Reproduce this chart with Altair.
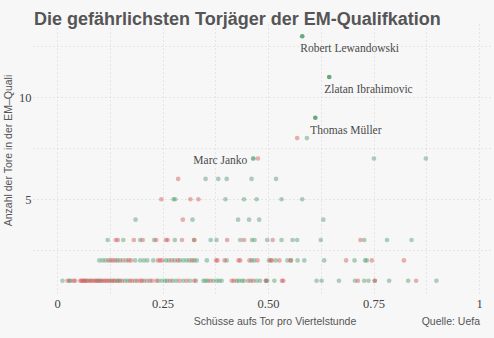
import altair as alt
import pandas as pd

# Schüsse aufs Tor pro Viertelstunde, je Anzahl Tore und Gruppe
tore_1_gruen = [0.013, 0.029, 0.032, 0.065, 0.078, 0.100, 0.102, 0.126, 0.137, 0.145, 0.149, 0.161,
                0.167, 0.185, 0.206, 0.220, 0.240, 0.248, 0.256, 0.261, 0.274, 0.282, 0.299, 0.315,
                0.329, 0.347, 0.352, 0.357, 0.370, 0.378, 0.384, 0.390, 0.426, 0.431, 0.438, 0.443,
                0.459, 0.473, 0.481, 0.495, 0.498, 0.515, 0.615, 0.627, 0.668, 0.706, 0.728, 0.738,
                0.753, 0.787, 0.832, 0.899]
tore_1_rot = [0.025, 0.039, 0.043, 0.055, 0.058, 0.061, 0.066, 0.070, 0.073, 0.081, 0.085, 0.090,
              0.093, 0.096, 0.106, 0.110, 0.114, 0.118, 0.122, 0.130, 0.134, 0.143, 0.154, 0.173,
              0.178, 0.190, 0.197, 0.201, 0.213, 0.225, 0.235, 0.268, 0.290, 0.307, 0.325, 0.363,
              0.414, 0.419, 0.453, 0.465, 0.495, 0.533, 0.536, 0.713, 0.753, 0.851]
tore_2_gruen = [0.100, 0.108, 0.115, 0.127, 0.143, 0.149, 0.164, 0.185, 0.197, 0.206, 0.214, 0.228,
                0.258, 0.265, 0.279, 0.291, 0.299, 0.307, 0.314, 0.325, 0.331, 0.355, 0.402, 0.461,
                0.467, 0.502, 0.518, 0.546, 0.554, 0.570, 0.586, 0.633, 0.705, 0.730, 0.734]
tore_2_rot = [0.122, 0.132, 0.138, 0.156, 0.170, 0.175, 0.239, 0.244, 0.249, 0.272, 0.286, 0.320,
              0.377, 0.380, 0.397, 0.430, 0.434, 0.456, 0.475, 0.506, 0.509, 0.527, 0.554, 0.685,
              0.746, 0.822]
tore_3_gruen = [0.120, 0.157, 0.197, 0.230, 0.279, 0.325, 0.364, 0.378, 0.434, 0.462, 0.468, 0.498,
                0.532, 0.558, 0.569, 0.625, 0.728, 0.782, 0.840]
tore_3_rot = [0.139, 0.144, 0.182, 0.203, 0.235, 0.258, 0.262, 0.296, 0.325, 0.403, 0.443, 0.511, 0.719]
tore_4_gruen = [0.186, 0.321, 0.429, 0.455, 0.479, 0.631]
tore_4_rot = [0.298]
tore_5_gruen = [0.276, 0.280, 0.399, 0.443, 0.473, 0.532, 0.581]
tore_5_rot = [0.247, 0.316, 0.335]
tore_6_gruen = [0.352, 0.382, 0.402, 0.461, 0.519]
tore_6_rot = [0.287]
tore_7_gruen = [0.465, 0.751, 0.874]
tore_7_rot = [0.476]
tore_8_gruen = [0.592]
tore_8_rot = [0.569]

# Hervorgehobene Spieler
namen = ["Robert Lewandowski", "Zlatan Ibrahimovic", "Thomas Müller", "Marc Janko"]
namen_schuesse = [0.581, 0.645, 0.612, 0.465]
namen_tore = [13, 11, 9, 7]

gruppen = [
    (1, tore_1_gruen, tore_1_rot), (2, tore_2_gruen, tore_2_rot), (3, tore_3_gruen, tore_3_rot),
    (4, tore_4_gruen, tore_4_rot), (5, tore_5_gruen, tore_5_rot), (6, tore_6_gruen, tore_6_rot),
    (7, tore_7_gruen, tore_7_rot), (8, tore_8_gruen, tore_8_rot),
]
rows = []
for tore, gruen, rot in gruppen:
    for s in gruen:
        rows.append({"schuesse": s, "tore": tore, "gruppe": "gruen"})
    for s in rot:
        rows.append({"schuesse": s, "tore": tore, "gruppe": "rot"})
df = pd.DataFrame(rows)
df_namen = pd.DataFrame({"name": namen, "schuesse": namen_schuesse, "tore": namen_tore})

GREEN = "#4E9A6A"
RED = "#D35454"
TEXT = "#555555"

xscale = alt.Scale(domain=[-0.057, 1.026], nice=False, zero=False)
yscale = alt.Scale(domain=[0.4, 13.6], nice=False, zero=False)

x_axis = alt.Axis(
    values=[0, 0.125, 0.25, 0.375, 0.5, 0.625, 0.75, 0.875, 1],
    labelExpr="datum.value == 0 ? '0' : datum.value == 1 ? '1' : (datum.value * 4) % 1 == 0 ? format(datum.value, '.2f') : ''",
    title="Schüsse aufs Tor pro Viertelstunde",
    titleX=241.5, titleY=28, titleAlign="center", titleBaseline="middle",
    labelPadding=4,
)
y_axis = alt.Axis(
    values=[2.5, 5, 7.5, 10, 12.5],
    labelExpr="datum.value % 5 == 0 ? format(datum.value, 'd') : ''",
    title="Anzahl der Tore in der EM–Quali",
    titleX=-25, titleY=126, titleAngle=270, titleAlign="center", titleBaseline="middle",
    labelPadding=2,
)

points = alt.Chart(df).mark_circle(size=22, opacity=0.45).encode(
    x=alt.X("schuesse:Q", scale=xscale, axis=x_axis),
    y=alt.Y("tore:Q", scale=yscale, axis=y_axis),
    color=alt.Color("gruppe:N", scale=alt.Scale(domain=["gruen", "rot"], range=[GREEN, RED]), legend=None),
)

top_points = alt.Chart(df_namen).transform_filter(
    alt.datum.tore > 8
).mark_circle(size=22, opacity=0.85, color=GREEN).encode(
    x=alt.X("schuesse:Q", scale=xscale),
    y=alt.Y("tore:Q", scale=yscale),
)
janko_point = alt.Chart(df_namen).transform_filter(
    alt.datum.tore == 7
).mark_circle(size=22, opacity=0.45, color=GREEN).encode(
    x=alt.X("schuesse:Q", scale=xscale),
    y=alt.Y("tore:Q", scale=yscale),
)

label_offsets = {
    "Robert Lewandowski": (-2, 16, "left"),
    "Zlatan Ibrahimovic": (-5, 16.5, "left"),
    "Thomas Müller": (-5, 16, "left"),
    "Marc Janko": (-6, 5, "right"),
}
labels = []
for n, (dx, dy, al) in label_offsets.items():
    labels.append(
        alt.Chart(df_namen).transform_filter(alt.datum.name == n).mark_text(
            align=al, baseline="alphabetic", dx=dx, dy=dy,
            font="Liberation Serif", fontSize=11.5, color="#4a4a4a",
        ).encode(
            x=alt.X("schuesse:Q", scale=xscale),
            y=alt.Y("tore:Q", scale=yscale),
            text="name:N",
        )
    )

quelle = alt.Chart(pd.DataFrame({"t": ["Quelle: Uefa"]})).mark_text(
    align="right", baseline="middle", font="Liberation Sans", fontSize=10.5, color=TEXT,
).encode(x=alt.value(447), y=alt.value(298), text="t:N")

chart = alt.layer(points, top_points, janko_point, *labels, quelle).properties(
    width=457, height=269,
    autosize=alt.AutoSizeParams(type="none"),
    padding={"left": 33, "top": 24, "right": 4, "bottom": 45},
    background="#F7F7F7",
    title=alt.TitleParams(
        "Die gefährlichsten Torjäger der EM-Qualifkation",
        anchor="start", frame="group", offset=0, baseline="alphabetic", dx=1, dy=19,
        font="Liberation Sans", fontSize=18, fontWeight="bold", color=TEXT,
    ),
).configure_view(stroke=None).configure_axis(
    domain=False, ticks=False, grid=True,
    gridColor="#D2D2D2", gridDash=[1, 3], gridWidth=1,
    labelFont="Liberation Serif", labelFontSize=12.5, labelColor="#444444",
    titleFont="Liberation Sans", titleFontSize=10.5, titleColor=TEXT, titleFontWeight="normal",
)

chart.save("out.html", embed_options={"renderer": "svg", "actions": False})
